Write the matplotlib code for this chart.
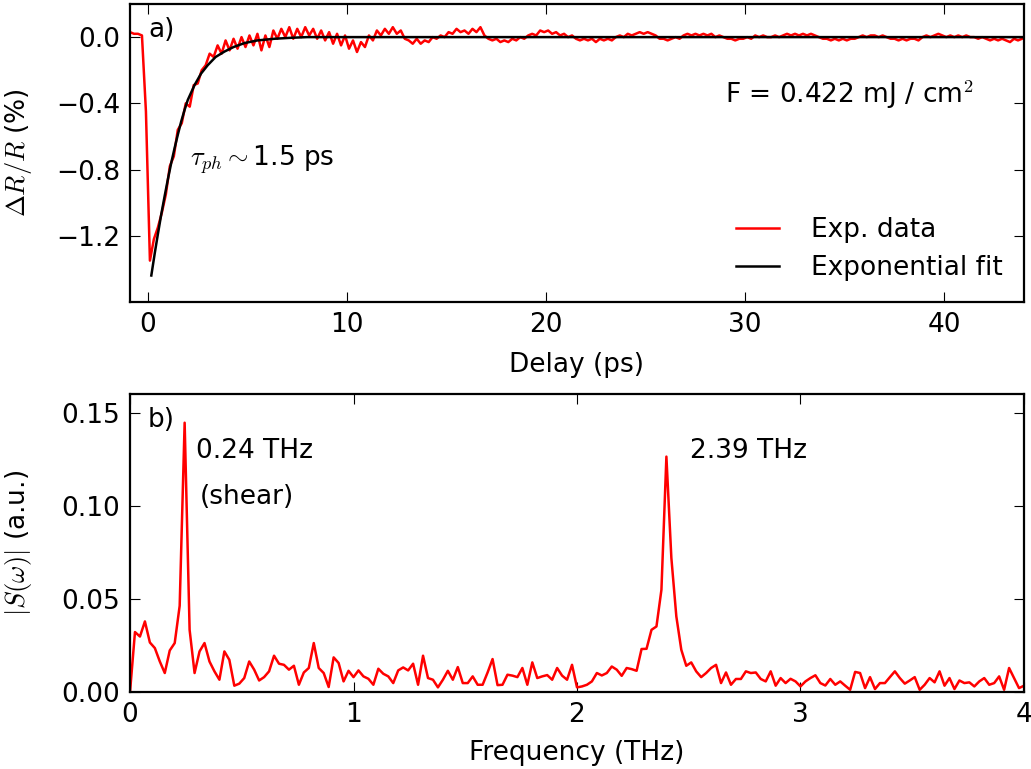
import numpy as np
import matplotlib
matplotlib.use("Agg")
import matplotlib.pyplot as plt

# ---------------- data ----------------
# Panel a): time-domain transient reflectivity (sampled every 0.2 ps from -0.9 ps)
t_start = -0.9
t_step = 0.2
dRR = [
    0.03, 0.02, 0.02, 0.01, -0.45, -1.35, -1.22, -1.15, -1.06, -0.95,
    -0.78, -0.72, -0.56, -0.52, -0.40, -0.42, -0.29, -0.28, -0.20, -0.17,
    -0.10, -0.12, -0.05, -0.10, -0.02, -0.08, -0.01, -0.07, 0.00, -0.06,
    0.01, -0.05, 0.02, -0.08, 0.01, -0.06, 0.04, -0.01, 0.05, 0.00,
    0.06, -0.01, 0.05, 0.00, 0.06, 0.01, 0.05, -0.01, 0.04, -0.02,
    0.03, -0.04, 0.02, -0.05, 0.01, -0.07, -0.02, -0.09, -0.03, -0.06,
    0.01, -0.02, 0.04, 0.01, 0.05, 0.02, 0.06, 0.02, 0.04, -0.01,
    -0.02, -0.04, -0.01, -0.04, -0.02, -0.03, 0.00, -0.01, 0.01, 0.00,
    0.03, 0.02, 0.05, 0.03, 0.04, 0.02, 0.05, 0.03, 0.06, 0.01,
    -0.01, -0.02, -0.01, -0.03, -0.02, -0.03, -0.01, -0.02, 0.00, -0.01,
    0.01, 0.02, 0.01, 0.04, 0.03, 0.04, 0.02, 0.03, 0.01, 0.02,
    0.00, 0.01, -0.01, -0.02, -0.01, -0.02, -0.01, -0.03, -0.01, -0.02,
    -0.01, -0.02, 0.00, 0.01, 0.00, 0.02, 0.01, 0.02, 0.03, 0.02,
    0.03, 0.02, 0.01, -0.01, -0.01, -0.02, -0.01, 0.00, -0.01, 0.01,
    0.02, 0.01, 0.02, 0.01, 0.02, 0.01, 0.02, 0.00, 0.01, 0.00,
    -0.01, -0.01, -0.02, -0.01, -0.01, 0.00, -0.01, 0.01, 0.00, 0.01,
    0.00, 0.00, 0.01, 0.00, 0.01, 0.02, 0.01, 0.02, 0.01, 0.02,
    0.01, 0.02, 0.01, 0.00, -0.01, -0.01, -0.02, -0.01, -0.02, -0.01,
    -0.02, -0.01, -0.01, 0.00, 0.01, 0.00, 0.01, 0.01, 0.00, 0.01,
    0.00, -0.01, -0.01, -0.02, -0.01, -0.02, -0.01, -0.01, -0.02, 0.00,
    0.01, 0.00, 0.01, 0.02, 0.01, 0.00, 0.01, 0.00, 0.01, 0.00,
    0.01, 0.00, 0.00, -0.01, 0.00, -0.01, -0.02, -0.01, -0.02, -0.01,
    -0.02, -0.03, -0.01, -0.02, -0.01,
]

# Exponential fit
fit_delay = [0.17, 0.35, 0.5, 0.67, 0.84, 1.0, 1.17, 1.34, 1.5, 1.67, 1.84, 2.0,
             2.34, 2.67, 3.0, 3.4, 3.85, 4.3, 4.85, 5.5, 6.35, 7.2, 8.0, 10.0,
             15.0, 20.0, 30.0, 44.0]
fit_vals = [-1.44, -1.30, -1.19, -1.07, -0.96, -0.86, -0.76, -0.67, -0.59, -0.51,
            -0.44, -0.38, -0.29, -0.22, -0.17, -0.12, -0.087, -0.06, -0.036, -0.02,
            -0.01, -0.004, 0.0, 0.0, 0.0, 0.0, 0.0, 0.0]

# Panel b): Fourier amplitude spectrum, 0 - 4 THz
spectrum = [
    0.0, 0.0322, 0.0298, 0.0379, 0.0266, 0.0236, 0.0164, 0.0102, 0.0223, 0.0263,
    0.0463, 0.1446, 0.0334, 0.0102,
    0.0218, 0.0263, 0.0164, 0.0111, 0.0066, 0.0218, 0.0173, 0.0034, 0.0045, 0.0075,
    0.0164, 0.0120, 0.0062, 0.0080, 0.0111, 0.0195, 0.0152, 0.0146, 0.0120, 0.0141,
    0.0039, 0.0105, 0.0129, 0.0263, 0.0129, 0.0102, 0.0027, 0.0186, 0.0156, 0.0057,
    0.0114, 0.0080, 0.0116, 0.0084, 0.0071, 0.0039, 0.0125, 0.0098, 0.0084, 0.0048,
    0.0116, 0.0132, 0.0116, 0.0152, 0.0039,
    0.0195,
    0.0075, 0.0066, 0.0025, 0.0066, 0.0114, 0.0066, 0.0134, 0.0048, 0.0048, 0.0084,
    0.0039, 0.0039, 0.0105, 0.0177, 0.0037, 0.0039, 0.0093, 0.0088, 0.0080, 0.0129,
    0.0039, 0.0159, 0.0075, 0.0084, 0.0091, 0.0066, 0.0129, 0.0088, 0.0066, 0.0146,
    0.0025, 0.0030, 0.0039, 0.0057, 0.0102, 0.0089, 0.0102, 0.0137, 0.0120, 0.0087,
    0.0129, 0.0123, 0.0114, 0.0231, 0.0232, 0.0334, 0.0352, 0.0549, 0.1264, 0.0720,
    0.0406, 0.0227, 0.0141, 0.0159, 0.0111, 0.0080, 0.0102, 0.0129, 0.0146, 0.0048,
    0.0105, 0.0039, 0.0070, 0.0070, 0.0111, 0.0102, 0.0105, 0.0070, 0.0057, 0.0111,
    0.0034, 0.0075, 0.0048, 0.0071, 0.0057, 0.0030, 0.0057, 0.0075, 0.0090, 0.0048,
    0.0035, 0.0070, 0.0039, 0.0057, 0.0034, 0.0012, 0.0108, 0.0102, 0.0021, 0.0080,
    0.0016, 0.0048, 0.0048, 0.0080, 0.0111, 0.0075, 0.0045, 0.0062, 0.0080, 0.0012,
    0.0039, 0.0075, 0.0052, 0.0111, 0.0034, 0.0075, 0.0016, 0.0062, 0.0048, 0.0052,
    0.0030, 0.0057, 0.0075, 0.0039, 0.0048, 0.0084, 0.0012, 0.0129, 0.0075, 0.0021,
    0.0034,
]
f_max = 4.0

delay = t_start + t_step * np.arange(len(dRR))
freq = np.linspace(0.0, f_max, len(spectrum))

# ---------------- style ----------------
FS = 19
plt.rcParams['font.family'] = ['DejaVu Sans']
plt.rcParams['mathtext.fontset'] = 'cm'
plt.rcParams['font.size'] = FS

fig = plt.figure(figsize=(10.31, 7.69), dpi=100)
ax1 = fig.add_axes([0.1261, 0.6073, 0.8671, 0.3875])
ax2 = fig.add_axes([0.1261, 0.1001, 0.8671, 0.3875])

for ax in (ax1, ax2):
    for sp in ax.spines.values():
        sp.set_linewidth(1.6)
    ax.tick_params(direction='in', top=True, right=True, length=7, width=0.8,
                   labelsize=FS, pad=7)

# Panel a
ax1.plot(delay, dRR, color='#ff0000', lw=1.8, label='Exp. data')
ax1.plot(fit_delay, fit_vals, color='black', lw=1.8, label='Exponential fit')
ax1.set_xlim(-0.9, 44)
ax1.set_ylim(-1.6, 0.2)
ax1.set_yticks([0.0, -0.4, -0.8, -1.2])
ax1.set_xticks([0, 10, 20, 30, 40])
ax1.set_xlabel('Delay (ps)', fontsize=FS, labelpad=10.5)
ax1.set_ylabel(r'$\Delta R/R$ (%)', fontsize=FS)
ax1.yaxis.set_label_coords(-0.1075, 0.5)
ax1.text(0.02, 0.955, 'a)', transform=ax1.transAxes, ha='left', va='top', fontsize=FS)
ax1.text(2.1, -0.74, r'$\tau_{ph}\sim$1.5 ps', ha='left', va='center', fontsize=FS)
ax1.text(29.0, -0.35, r'F = 0.422 mJ / cm$^2$', ha='left', va='center', fontsize=FS)
ax1.legend(loc='lower right', frameon=False, fontsize=FS, handlelength=1.65,
           handletextpad=1.2, borderaxespad=0.4, labelspacing=0.45)

# Panel b
ax2.plot(freq, spectrum, color='#ff0000', lw=1.8)
ax2.set_xlim(0, 4)
ax2.set_ylim(0, 0.16)
ax2.set_xticks([0, 1, 2, 3, 4])
ax2.set_yticks([0.0, 0.05, 0.10, 0.15])
ax2.set_yticklabels(['0.00', '0.05', '0.10', '0.15'])
ax2.set_xlabel('Frequency (THz)', fontsize=FS, labelpad=8.5)
ax2.set_ylabel(r'$|S(\omega)|$ (a.u.)', fontsize=FS)
ax2.yaxis.set_label_coords(-0.1075, 0.5)
ax2.text(0.02, 0.955, 'b)', transform=ax2.transAxes, ha='left', va='top', fontsize=FS)
ax2.text(0.295, 0.1295, '0.24 THz', ha='left', va='center', fontsize=FS)
ax2.text(0.313, 0.1047, '(shear)', ha='left', va='center', fontsize=FS)
ax2.text(2.505, 0.1295, '2.39 THz', ha='left', va='center', fontsize=FS)

fig.savefig('out.png', dpi=100)
